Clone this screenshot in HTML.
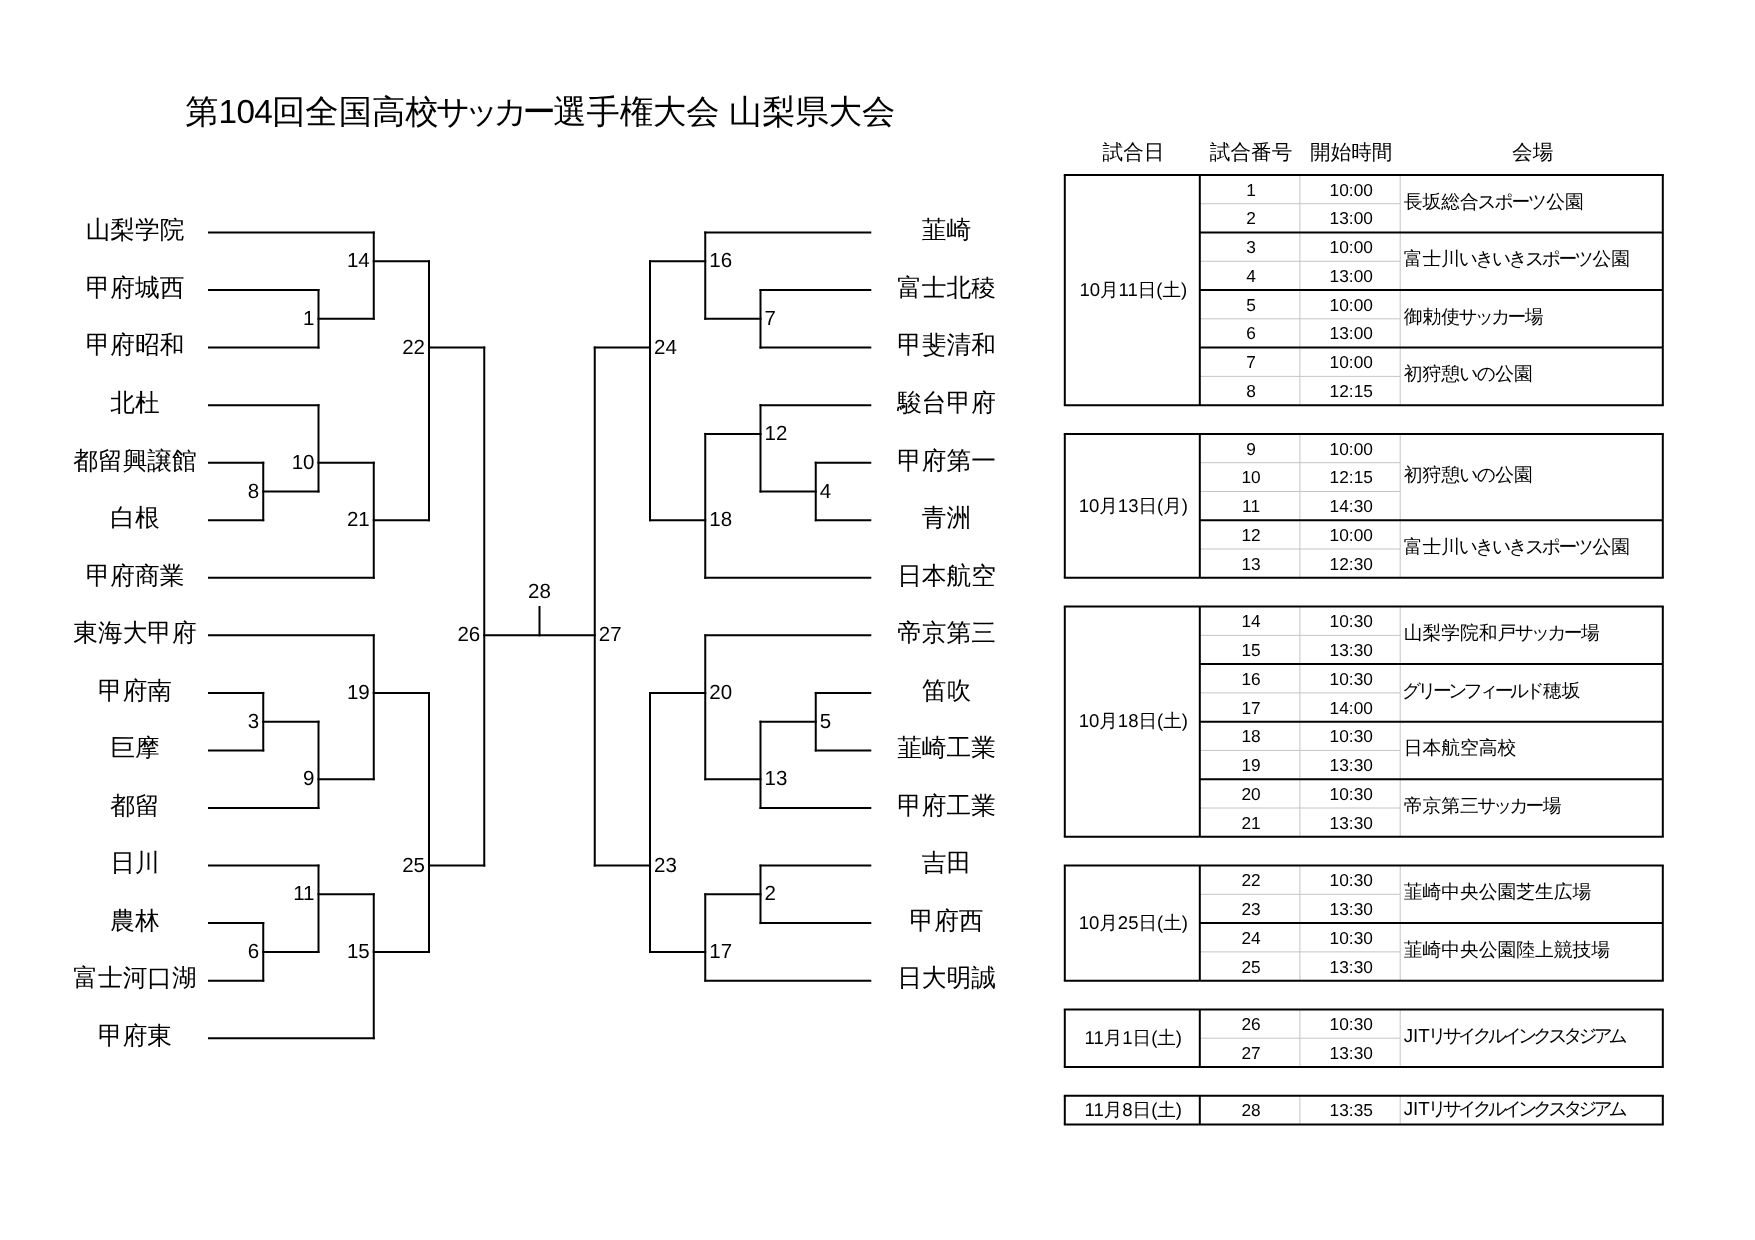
<!DOCTYPE html>
<html lang="ja">
<head>
<meta charset="utf-8">
<title>第104回全国高校サッカー選手権大会 山梨県大会</title>
<style>
html,body{margin:0;padding:0;background:#fff;}
body{width:1755px;height:1240px;position:relative;overflow:hidden;font-family:"Liberation Sans",sans-serif;color:#000;text-rendering:geometricPrecision;}
#page{position:absolute;left:0;top:0;width:1755px;height:1240px;will-change:transform;}
svg{position:absolute;left:0;top:0;}
.t{position:absolute;white-space:nowrap;line-height:1;}
.title{left:185.3px;top:95.5px;font-size:33.3px;}
.title .k{letter-spacing:-5.24px;margin-left:-2.62px;margin-right:2.62px;}
.title .d{letter-spacing:-0.7px;}
.team{font-size:24.7px;width:160px;text-align:center;height:30px;line-height:30px;}
.num{font-size:20.5px;height:24px;line-height:24px;}
.num.r{text-align:right;width:60px;}
.num.l{text-align:left;width:60px;}
.num.c{text-align:center;width:60px;}
.th{font-size:20.6px;text-align:center;height:26px;line-height:26px;}
.tn{font-size:17.3px;text-align:center;}
.tv{font-size:18.75px;text-align:left;}
.td{font-size:18.55px;text-align:center;}
.cell{display:flex;align-items:center;}
.tn.cell,.td.cell{justify-content:center;}
</style>
</head>
<body>
<div id="page">
<svg width="1755" height="1240" viewBox="0 0 1755 1240">
<g stroke="#c4c4c4" stroke-width="1" fill="none">
<line x1="1299.9" y1="174.95" x2="1299.9" y2="405.15"/>
<line x1="1400.2" y1="174.95" x2="1400.2" y2="405.15"/>
<line x1="1199.8" y1="203.72" x2="1400.2" y2="203.72"/>
<line x1="1199.8" y1="261.27" x2="1400.2" y2="261.27"/>
<line x1="1199.8" y1="318.82" x2="1400.2" y2="318.82"/>
<line x1="1199.8" y1="376.38" x2="1400.2" y2="376.38"/>
<line x1="1299.9" y1="433.92" x2="1299.9" y2="577.8"/>
<line x1="1400.2" y1="433.92" x2="1400.2" y2="577.8"/>
<line x1="1199.8" y1="462.7" x2="1400.2" y2="462.7"/>
<line x1="1199.8" y1="491.47" x2="1400.2" y2="491.47"/>
<line x1="1199.8" y1="549.02" x2="1400.2" y2="549.02"/>
<line x1="1299.9" y1="606.58" x2="1299.9" y2="836.77"/>
<line x1="1400.2" y1="606.58" x2="1400.2" y2="836.77"/>
<line x1="1199.8" y1="635.35" x2="1400.2" y2="635.35"/>
<line x1="1199.8" y1="692.9" x2="1400.2" y2="692.9"/>
<line x1="1199.8" y1="750.45" x2="1400.2" y2="750.45"/>
<line x1="1199.8" y1="808" x2="1400.2" y2="808"/>
<line x1="1299.9" y1="865.55" x2="1299.9" y2="980.65"/>
<line x1="1400.2" y1="865.55" x2="1400.2" y2="980.65"/>
<line x1="1199.8" y1="894.32" x2="1400.2" y2="894.32"/>
<line x1="1199.8" y1="951.88" x2="1400.2" y2="951.88"/>
<line x1="1299.9" y1="1009.42" x2="1299.9" y2="1066.97"/>
<line x1="1400.2" y1="1009.42" x2="1400.2" y2="1066.97"/>
<line x1="1199.8" y1="1038.2" x2="1400.2" y2="1038.2"/>
<line x1="1299.9" y1="1095.75" x2="1299.9" y2="1124.53"/>
<line x1="1400.2" y1="1095.75" x2="1400.2" y2="1124.53"/>
</g>
<g stroke="#000" stroke-width="2" fill="none" stroke-linecap="square">
<line x1="209" y1="232.5" x2="373.75" y2="232.5"/>
<line x1="209" y1="290.05" x2="318.5" y2="290.05"/>
<line x1="209" y1="347.6" x2="318.5" y2="347.6"/>
<line x1="209" y1="405.15" x2="318.5" y2="405.15"/>
<line x1="209" y1="462.7" x2="263.25" y2="462.7"/>
<line x1="209" y1="520.25" x2="263.25" y2="520.25"/>
<line x1="209" y1="577.8" x2="373.75" y2="577.8"/>
<line x1="209" y1="635.35" x2="373.75" y2="635.35"/>
<line x1="209" y1="692.9" x2="263.25" y2="692.9"/>
<line x1="209" y1="750.45" x2="263.25" y2="750.45"/>
<line x1="209" y1="808" x2="318.5" y2="808"/>
<line x1="209" y1="865.55" x2="318.5" y2="865.55"/>
<line x1="209" y1="923.1" x2="263.25" y2="923.1"/>
<line x1="209" y1="980.65" x2="263.25" y2="980.65"/>
<line x1="209" y1="1038.2" x2="373.75" y2="1038.2"/>
<line x1="318.5" y1="290.05" x2="318.5" y2="347.6"/>
<line x1="318.5" y1="318.82" x2="373.75" y2="318.82"/>
<line x1="373.75" y1="232.5" x2="373.75" y2="318.82"/>
<line x1="373.75" y1="261.27" x2="429" y2="261.27"/>
<line x1="263.25" y1="462.7" x2="263.25" y2="520.25"/>
<line x1="263.25" y1="491.47" x2="318.5" y2="491.47"/>
<line x1="318.5" y1="405.15" x2="318.5" y2="491.47"/>
<line x1="318.5" y1="462.7" x2="373.75" y2="462.7"/>
<line x1="373.75" y1="462.7" x2="373.75" y2="577.8"/>
<line x1="373.75" y1="520.25" x2="429" y2="520.25"/>
<line x1="429" y1="261.27" x2="429" y2="520.25"/>
<line x1="429" y1="347.6" x2="484.25" y2="347.6"/>
<line x1="263.25" y1="692.9" x2="263.25" y2="750.45"/>
<line x1="263.25" y1="721.67" x2="318.5" y2="721.67"/>
<line x1="318.5" y1="721.67" x2="318.5" y2="808"/>
<line x1="318.5" y1="779.23" x2="373.75" y2="779.23"/>
<line x1="373.75" y1="635.35" x2="373.75" y2="779.23"/>
<line x1="373.75" y1="692.9" x2="429" y2="692.9"/>
<line x1="263.25" y1="923.1" x2="263.25" y2="980.65"/>
<line x1="263.25" y1="951.88" x2="318.5" y2="951.88"/>
<line x1="318.5" y1="865.55" x2="318.5" y2="951.88"/>
<line x1="318.5" y1="894.32" x2="373.75" y2="894.32"/>
<line x1="373.75" y1="894.32" x2="373.75" y2="1038.2"/>
<line x1="373.75" y1="951.88" x2="429" y2="951.88"/>
<line x1="429" y1="692.9" x2="429" y2="951.88"/>
<line x1="429" y1="865.55" x2="484.25" y2="865.55"/>
<line x1="484.25" y1="347.6" x2="484.25" y2="865.55"/>
<line x1="484.25" y1="635.35" x2="594.75" y2="635.35"/>
<line x1="539.5" y1="607" x2="539.5" y2="635.35"/>
<line x1="705.25" y1="232.5" x2="870.3" y2="232.5"/>
<line x1="760.5" y1="290.05" x2="870.3" y2="290.05"/>
<line x1="760.5" y1="347.6" x2="870.3" y2="347.6"/>
<line x1="760.5" y1="405.15" x2="870.3" y2="405.15"/>
<line x1="815.75" y1="462.7" x2="870.3" y2="462.7"/>
<line x1="815.75" y1="520.25" x2="870.3" y2="520.25"/>
<line x1="705.25" y1="577.8" x2="870.3" y2="577.8"/>
<line x1="705.25" y1="635.35" x2="870.3" y2="635.35"/>
<line x1="815.75" y1="692.9" x2="870.3" y2="692.9"/>
<line x1="815.75" y1="750.45" x2="870.3" y2="750.45"/>
<line x1="760.5" y1="808" x2="870.3" y2="808"/>
<line x1="760.5" y1="865.55" x2="870.3" y2="865.55"/>
<line x1="760.5" y1="923.1" x2="870.3" y2="923.1"/>
<line x1="705.25" y1="980.65" x2="870.3" y2="980.65"/>
<line x1="760.5" y1="290.05" x2="760.5" y2="347.6"/>
<line x1="705.25" y1="318.82" x2="760.5" y2="318.82"/>
<line x1="705.25" y1="232.5" x2="705.25" y2="318.82"/>
<line x1="650" y1="261.27" x2="705.25" y2="261.27"/>
<line x1="815.75" y1="462.7" x2="815.75" y2="520.25"/>
<line x1="760.5" y1="491.47" x2="815.75" y2="491.47"/>
<line x1="760.5" y1="405.15" x2="760.5" y2="491.47"/>
<line x1="705.25" y1="433.92" x2="760.5" y2="433.92"/>
<line x1="705.25" y1="433.92" x2="705.25" y2="577.8"/>
<line x1="650" y1="520.25" x2="705.25" y2="520.25"/>
<line x1="650" y1="261.27" x2="650" y2="520.25"/>
<line x1="594.75" y1="347.6" x2="650" y2="347.6"/>
<line x1="815.75" y1="692.9" x2="815.75" y2="750.45"/>
<line x1="760.5" y1="721.67" x2="815.75" y2="721.67"/>
<line x1="760.5" y1="721.67" x2="760.5" y2="808"/>
<line x1="705.25" y1="779.23" x2="760.5" y2="779.23"/>
<line x1="705.25" y1="635.35" x2="705.25" y2="779.23"/>
<line x1="650" y1="692.9" x2="705.25" y2="692.9"/>
<line x1="760.5" y1="865.55" x2="760.5" y2="923.1"/>
<line x1="705.25" y1="894.32" x2="760.5" y2="894.32"/>
<line x1="705.25" y1="894.32" x2="705.25" y2="980.65"/>
<line x1="650" y1="951.88" x2="705.25" y2="951.88"/>
<line x1="650" y1="692.9" x2="650" y2="951.88"/>
<line x1="594.75" y1="865.55" x2="650" y2="865.55"/>
<line x1="594.75" y1="347.6" x2="594.75" y2="865.55"/>
</g>
<g stroke="#000" stroke-width="2" fill="none">
<line x1="1199.8" y1="232.5" x2="1662.8" y2="232.5"/>
<line x1="1199.8" y1="290.05" x2="1662.8" y2="290.05"/>
<line x1="1199.8" y1="347.6" x2="1662.8" y2="347.6"/>
<line x1="1063.8" y1="174.95" x2="1663.8" y2="174.95"/>
<line x1="1063.8" y1="405.15" x2="1663.8" y2="405.15"/>
<line x1="1064.8" y1="174.95" x2="1064.8" y2="405.15"/>
<line x1="1662.8" y1="174.95" x2="1662.8" y2="405.15"/>
<line x1="1199.8" y1="174.95" x2="1199.8" y2="405.15"/>
<line x1="1199.8" y1="520.25" x2="1662.8" y2="520.25"/>
<line x1="1063.8" y1="433.92" x2="1663.8" y2="433.92"/>
<line x1="1063.8" y1="577.8" x2="1663.8" y2="577.8"/>
<line x1="1064.8" y1="433.92" x2="1064.8" y2="577.8"/>
<line x1="1662.8" y1="433.92" x2="1662.8" y2="577.8"/>
<line x1="1199.8" y1="433.92" x2="1199.8" y2="577.8"/>
<line x1="1199.8" y1="664.12" x2="1662.8" y2="664.12"/>
<line x1="1199.8" y1="721.67" x2="1662.8" y2="721.67"/>
<line x1="1199.8" y1="779.23" x2="1662.8" y2="779.23"/>
<line x1="1063.8" y1="606.58" x2="1663.8" y2="606.58"/>
<line x1="1063.8" y1="836.77" x2="1663.8" y2="836.77"/>
<line x1="1064.8" y1="606.58" x2="1064.8" y2="836.77"/>
<line x1="1662.8" y1="606.58" x2="1662.8" y2="836.77"/>
<line x1="1199.8" y1="606.58" x2="1199.8" y2="836.77"/>
<line x1="1199.8" y1="923.1" x2="1662.8" y2="923.1"/>
<line x1="1063.8" y1="865.55" x2="1663.8" y2="865.55"/>
<line x1="1063.8" y1="980.65" x2="1663.8" y2="980.65"/>
<line x1="1064.8" y1="865.55" x2="1064.8" y2="980.65"/>
<line x1="1662.8" y1="865.55" x2="1662.8" y2="980.65"/>
<line x1="1199.8" y1="865.55" x2="1199.8" y2="980.65"/>
<line x1="1063.8" y1="1009.42" x2="1663.8" y2="1009.42"/>
<line x1="1063.8" y1="1066.97" x2="1663.8" y2="1066.97"/>
<line x1="1064.8" y1="1009.42" x2="1064.8" y2="1066.97"/>
<line x1="1662.8" y1="1009.42" x2="1662.8" y2="1066.97"/>
<line x1="1199.8" y1="1009.42" x2="1199.8" y2="1066.97"/>
<line x1="1063.8" y1="1095.75" x2="1663.8" y2="1095.75"/>
<line x1="1063.8" y1="1124.53" x2="1663.8" y2="1124.53"/>
<line x1="1064.8" y1="1095.75" x2="1064.8" y2="1124.53"/>
<line x1="1662.8" y1="1095.75" x2="1662.8" y2="1124.53"/>
<line x1="1199.8" y1="1095.75" x2="1199.8" y2="1124.53"/>
</g>
</svg>
<div class="t title">第<span class="d">104</span>回全国高校<span class="k">サッカー</span>選手権大会 山梨県大会</div>
<div class="t team" style="left:55px;top:216.3px">山梨学院</div>
<div class="t team" style="left:55px;top:273.85px">甲府城西</div>
<div class="t team" style="left:55px;top:331.4px">甲府昭和</div>
<div class="t team" style="left:55px;top:388.95px">北杜</div>
<div class="t team" style="left:55px;top:446.5px">都留興譲館</div>
<div class="t team" style="left:55px;top:504.05px">白根</div>
<div class="t team" style="left:55px;top:561.6px">甲府商業</div>
<div class="t team" style="left:55px;top:619.15px">東海大甲府</div>
<div class="t team" style="left:55px;top:676.7px">甲府南</div>
<div class="t team" style="left:55px;top:734.25px">巨摩</div>
<div class="t team" style="left:55px;top:791.8px">都留</div>
<div class="t team" style="left:55px;top:849.35px">日川</div>
<div class="t team" style="left:55px;top:906.9px">農林</div>
<div class="t team" style="left:55px;top:964.45px">富士河口湖</div>
<div class="t team" style="left:55px;top:1022px">甲府東</div>
<div class="t team" style="left:866.5px;top:216.3px">韮崎</div>
<div class="t team" style="left:866.5px;top:273.85px">富士北稜</div>
<div class="t team" style="left:866.5px;top:331.4px">甲斐清和</div>
<div class="t team" style="left:866.5px;top:388.95px">駿台甲府</div>
<div class="t team" style="left:866.5px;top:446.5px">甲府第一</div>
<div class="t team" style="left:866.5px;top:504.05px">青洲</div>
<div class="t team" style="left:866.5px;top:561.6px">日本航空</div>
<div class="t team" style="left:866.5px;top:619.15px">帝京第三</div>
<div class="t team" style="left:866.5px;top:676.7px">笛吹</div>
<div class="t team" style="left:866.5px;top:734.25px">韮崎工業</div>
<div class="t team" style="left:866.5px;top:791.8px">甲府工業</div>
<div class="t team" style="left:866.5px;top:849.35px">吉田</div>
<div class="t team" style="left:866.5px;top:906.9px">甲府西</div>
<div class="t team" style="left:866.5px;top:964.45px">日大明誠</div>
<div class="t num r" style="left:254.5px;top:306.93px">1</div>
<div class="t num r" style="left:309.75px;top:249.37px">14</div>
<div class="t num r" style="left:199.25px;top:479.57px">8</div>
<div class="t num r" style="left:254.5px;top:450.8px">10</div>
<div class="t num r" style="left:309.75px;top:508.35px">21</div>
<div class="t num r" style="left:365px;top:335.7px">22</div>
<div class="t num r" style="left:199.25px;top:709.77px">3</div>
<div class="t num r" style="left:254.5px;top:767.33px">9</div>
<div class="t num r" style="left:309.75px;top:681px">19</div>
<div class="t num r" style="left:199.25px;top:939.98px">6</div>
<div class="t num r" style="left:254.5px;top:882.42px">11</div>
<div class="t num r" style="left:309.75px;top:939.98px">15</div>
<div class="t num r" style="left:365px;top:853.65px">25</div>
<div class="t num r" style="left:420.25px;top:623.45px">26</div>
<div class="t num c" style="left:509.5px;top:580.1px">28</div>
<div class="t num l" style="left:764.5px;top:306.93px">7</div>
<div class="t num l" style="left:709.25px;top:249.37px">16</div>
<div class="t num l" style="left:819.75px;top:479.57px">4</div>
<div class="t num l" style="left:764.5px;top:422.02px">12</div>
<div class="t num l" style="left:709.25px;top:508.35px">18</div>
<div class="t num l" style="left:654px;top:335.7px">24</div>
<div class="t num l" style="left:819.75px;top:709.77px">5</div>
<div class="t num l" style="left:764.5px;top:767.33px">13</div>
<div class="t num l" style="left:709.25px;top:681px">20</div>
<div class="t num l" style="left:764.5px;top:882.42px">2</div>
<div class="t num l" style="left:709.25px;top:939.98px">17</div>
<div class="t num l" style="left:654px;top:853.65px">23</div>
<div class="t num l" style="left:598.75px;top:623.45px">27</div>
<div class="t th" style="left:1066px;top:140px;width:135px">試合日</div>
<div class="t th" style="left:1201px;top:140px;width:100.1px">試合番号</div>
<div class="t th" style="left:1301.1px;top:140px;width:100.3px">開始時間</div>
<div class="t th" style="left:1401.4px;top:140px;width:262.6px">会場</div>
<div class="t cell tn" style="left:1201px;top:175.85px;width:100.1px;height:28.78px">1</div>
<div class="t cell tn" style="left:1301.1px;top:175.85px;width:100.3px;height:28.78px">10:00</div>
<div class="t cell tn" style="left:1201px;top:204.62px;width:100.1px;height:28.78px">2</div>
<div class="t cell tn" style="left:1301.1px;top:204.62px;width:100.3px;height:28.78px">13:00</div>
<div class="t cell tv" style="left:1403.7px;top:173.25px;width:258.6px;height:57.55px">長坂総合<span style="letter-spacing:-2.2px;margin-left:-1.1px;margin-right:1.1px">スポーツ</span>公園</div>
<div class="t cell tn" style="left:1201px;top:233.4px;width:100.1px;height:28.77px">3</div>
<div class="t cell tn" style="left:1301.1px;top:233.4px;width:100.3px;height:28.77px">10:00</div>
<div class="t cell tn" style="left:1201px;top:262.17px;width:100.1px;height:28.78px">4</div>
<div class="t cell tn" style="left:1301.1px;top:262.17px;width:100.3px;height:28.78px">13:00</div>
<div class="t cell tv" style="left:1403.7px;top:230.8px;width:258.6px;height:57.55px">富士川<span style="letter-spacing:-2.56px;margin-left:-1.28px;margin-right:1.28px">いきいきスポーツ</span>公園</div>
<div class="t cell tn" style="left:1201px;top:290.95px;width:100.1px;height:28.77px">5</div>
<div class="t cell tn" style="left:1301.1px;top:290.95px;width:100.3px;height:28.77px">10:00</div>
<div class="t cell tn" style="left:1201px;top:319.72px;width:100.1px;height:28.78px">6</div>
<div class="t cell tn" style="left:1301.1px;top:319.72px;width:100.3px;height:28.78px">13:00</div>
<div class="t cell tv" style="left:1403.7px;top:288.35px;width:258.6px;height:57.55px">御勅使<span style="letter-spacing:-2.87px;margin-left:-1.44px;margin-right:1.44px">サッカー</span>場</div>
<div class="t cell tn" style="left:1201px;top:348.5px;width:100.1px;height:28.77px">7</div>
<div class="t cell tn" style="left:1301.1px;top:348.5px;width:100.3px;height:28.77px">10:00</div>
<div class="t cell tn" style="left:1201px;top:377.27px;width:100.1px;height:28.77px">8</div>
<div class="t cell tn" style="left:1301.1px;top:377.27px;width:100.3px;height:28.77px">12:15</div>
<div class="t cell tv" style="left:1403.7px;top:345.9px;width:258.6px;height:57.55px">初狩憩<span style="letter-spacing:-1.6px;margin-left:-0.8px;margin-right:0.8px">いの</span>公園</div>
<div class="t cell td" style="left:1065.8px;top:174.95px;width:135px;height:230.2px">10月11日(土)</div>
<div class="t cell tn" style="left:1201px;top:434.82px;width:100.1px;height:28.78px">9</div>
<div class="t cell tn" style="left:1301.1px;top:434.82px;width:100.3px;height:28.78px">10:00</div>
<div class="t cell tn" style="left:1201px;top:463.6px;width:100.1px;height:28.77px">10</div>
<div class="t cell tn" style="left:1301.1px;top:463.6px;width:100.3px;height:28.77px">12:15</div>
<div class="t cell tn" style="left:1201px;top:492.37px;width:100.1px;height:28.78px">11</div>
<div class="t cell tn" style="left:1301.1px;top:492.37px;width:100.3px;height:28.78px">14:30</div>
<div class="t cell tv" style="left:1403.7px;top:432.22px;width:258.6px;height:86.33px">初狩憩<span style="letter-spacing:-1.6px;margin-left:-0.8px;margin-right:0.8px">いの</span>公園</div>
<div class="t cell tn" style="left:1201px;top:521.15px;width:100.1px;height:28.77px">12</div>
<div class="t cell tn" style="left:1301.1px;top:521.15px;width:100.3px;height:28.77px">10:00</div>
<div class="t cell tn" style="left:1201px;top:549.92px;width:100.1px;height:28.77px">13</div>
<div class="t cell tn" style="left:1301.1px;top:549.92px;width:100.3px;height:28.77px">12:30</div>
<div class="t cell tv" style="left:1403.7px;top:518.55px;width:258.6px;height:57.55px">富士川<span style="letter-spacing:-2.56px;margin-left:-1.28px;margin-right:1.28px">いきいきスポーツ</span>公園</div>
<div class="t cell td" style="left:1065.8px;top:433.92px;width:135px;height:143.88px">10月13日(月)</div>
<div class="t cell tn" style="left:1201px;top:607.48px;width:100.1px;height:28.77px">14</div>
<div class="t cell tn" style="left:1301.1px;top:607.48px;width:100.3px;height:28.77px">10:30</div>
<div class="t cell tn" style="left:1201px;top:636.25px;width:100.1px;height:28.78px">15</div>
<div class="t cell tn" style="left:1301.1px;top:636.25px;width:100.3px;height:28.78px">13:30</div>
<div class="t cell tv" style="left:1403.7px;top:604.88px;width:258.6px;height:57.55px">山梨学院和戸<span style="letter-spacing:-2.87px;margin-left:-1.44px;margin-right:1.44px">サッカー</span>場</div>
<div class="t cell tn" style="left:1201px;top:665.02px;width:100.1px;height:28.77px">16</div>
<div class="t cell tn" style="left:1301.1px;top:665.02px;width:100.3px;height:28.77px">10:30</div>
<div class="t cell tn" style="left:1201px;top:693.8px;width:100.1px;height:28.77px">17</div>
<div class="t cell tn" style="left:1301.1px;top:693.8px;width:100.3px;height:28.77px">14:00</div>
<div class="t cell tv" style="left:1403.7px;top:662.42px;width:258.6px;height:57.55px"><span style="letter-spacing:-3.62px;margin-left:-1.81px;margin-right:1.81px">グリーンフィールド</span>穂坂</div>
<div class="t cell tn" style="left:1201px;top:722.57px;width:100.1px;height:28.77px">18</div>
<div class="t cell tn" style="left:1301.1px;top:722.57px;width:100.3px;height:28.77px">10:30</div>
<div class="t cell tn" style="left:1201px;top:751.35px;width:100.1px;height:28.78px">19</div>
<div class="t cell tn" style="left:1301.1px;top:751.35px;width:100.3px;height:28.78px">13:30</div>
<div class="t cell tv" style="left:1403.7px;top:719.97px;width:258.6px;height:57.55px">日本航空高校</div>
<div class="t cell tn" style="left:1201px;top:780.12px;width:100.1px;height:28.77px">20</div>
<div class="t cell tn" style="left:1301.1px;top:780.12px;width:100.3px;height:28.77px">10:30</div>
<div class="t cell tn" style="left:1201px;top:808.9px;width:100.1px;height:28.77px">21</div>
<div class="t cell tn" style="left:1301.1px;top:808.9px;width:100.3px;height:28.77px">13:30</div>
<div class="t cell tv" style="left:1403.7px;top:777.52px;width:258.6px;height:57.55px">帝京第三<span style="letter-spacing:-3.07px;margin-left:-1.53px;margin-right:1.53px">サッカー</span>場</div>
<div class="t cell td" style="left:1065.8px;top:606.58px;width:135px;height:230.2px">10月18日(土)</div>
<div class="t cell tn" style="left:1201px;top:866.45px;width:100.1px;height:28.77px">22</div>
<div class="t cell tn" style="left:1301.1px;top:866.45px;width:100.3px;height:28.77px">10:30</div>
<div class="t cell tn" style="left:1201px;top:895.22px;width:100.1px;height:28.77px">23</div>
<div class="t cell tn" style="left:1301.1px;top:895.22px;width:100.3px;height:28.77px">13:30</div>
<div class="t cell tv" style="left:1403.7px;top:863.85px;width:258.6px;height:57.55px">韮崎中央公園芝生広場</div>
<div class="t cell tn" style="left:1201px;top:924px;width:100.1px;height:28.78px">24</div>
<div class="t cell tn" style="left:1301.1px;top:924px;width:100.3px;height:28.78px">10:30</div>
<div class="t cell tn" style="left:1201px;top:952.77px;width:100.1px;height:28.77px">25</div>
<div class="t cell tn" style="left:1301.1px;top:952.77px;width:100.3px;height:28.77px">13:30</div>
<div class="t cell tv" style="left:1403.7px;top:921.4px;width:258.6px;height:57.55px">韮崎中央公園陸上競技場</div>
<div class="t cell td" style="left:1065.8px;top:865.55px;width:135px;height:115.1px">10月25日(土)</div>
<div class="t cell tn" style="left:1201px;top:1010.32px;width:100.1px;height:28.77px">26</div>
<div class="t cell tn" style="left:1301.1px;top:1010.32px;width:100.3px;height:28.77px">10:30</div>
<div class="t cell tn" style="left:1201px;top:1039.1px;width:100.1px;height:28.78px">27</div>
<div class="t cell tn" style="left:1301.1px;top:1039.1px;width:100.3px;height:28.78px">13:30</div>
<div class="t cell tv" style="left:1403.7px;top:1007.72px;width:258.6px;height:57.55px">JIT<span style="letter-spacing:-4.1px;margin-left:-2.05px;margin-right:2.05px">リサイクルインクスタジアム</span></div>
<div class="t cell td" style="left:1065.8px;top:1009.42px;width:135px;height:57.55px">11月1日(土)</div>
<div class="t cell tn" style="left:1201px;top:1096.65px;width:100.1px;height:28.78px">28</div>
<div class="t cell tn" style="left:1301.1px;top:1096.65px;width:100.3px;height:28.78px">13:35</div>
<div class="t cell tv" style="left:1403.7px;top:1095.45px;width:258.6px;height:28.78px">JIT<span style="letter-spacing:-4.1px;margin-left:-2.05px;margin-right:2.05px">リサイクルインクスタジアム</span></div>
<div class="t cell td" style="left:1065.8px;top:1095.75px;width:135px;height:28.78px">11月8日(土)</div>
</div>
</body>
</html>
